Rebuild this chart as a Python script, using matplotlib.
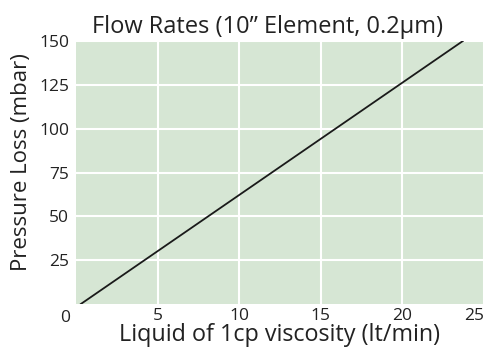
import matplotlib
matplotlib.use("Agg")
import matplotlib.pyplot as plt

# flow rate vs pressure loss for the 10" 0.2um element
flow = [0.3, 23.7]
pressure = [0, 150]

x_ticks = [5, 10, 15, 20, 25]
y_ticks = [25, 50, 75, 100, 125, 150]

plt.rcParams['font.family'] = ['Open Sans', 'DejaVu Sans']

fig = plt.figure(figsize=(4.84, 3.51), dpi=100)
ax = fig.add_axes([0.157, 0.134, 0.843, 0.749])
ax.set_facecolor('#d6e6d4')

ax.plot(flow, pressure, color='#1a1a1a', lw=1.3, zorder=3)

ax.set_xlim(0, 25)
ax.set_ylim(0, 150)
ax.set_xticks(x_ticks)
ax.set_yticks(y_ticks)
ax.grid(True, color='white', lw=1.5)
ax.set_axisbelow(True)
for s in ax.spines.values():
    s.set_visible(False)
ax.tick_params(length=0, labelsize=12.5, colors='#222222')
ax.tick_params(axis='y', pad=5)
ax.tick_params(axis='x', pad=3)
# keep the last x label inside the figure
ax.get_xticklabels()[-1].set_ha('right')

# origin label sits left of the axes corner
ax.text(-0.65, -3.5, '0', ha='center', va='top', fontsize=12.5, color='#222222')

ax.set_title('Flow Rates (10\u201d Element, 0.2\u00b5m)', fontsize=17,
             color='#222222', pad=6, x=0.47)
ax.set_xlabel('Liquid of 1cp viscosity (lt/min)', fontsize=16.8, color='#222222',
              labelpad=-1, x=0.5)
ax.set_ylabel('Pressure Loss (mbar)', fontsize=16, color='#222222', labelpad=5,
              y=0.54)

fig.savefig('out.png', dpi=100)
